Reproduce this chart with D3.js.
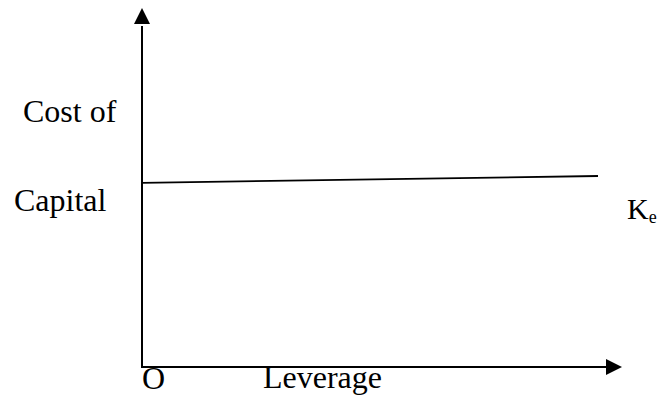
<!DOCTYPE html>
<html>
<head>
<meta charset="utf-8">
<script src="https://cdn.jsdelivr.net/npm/d3@7"></script>
<style>
  body { margin: 0; background: #fff; }
  text { font-family: "Liberation Serif", "Times New Roman", serif; fill: #000; }
</style>
</head>
<body>
<div id="chart"></div>
<script>
// data
const leverage = [0, 95];
const costOfEquity = [51.3, 53.2];
const seriesLabel = 'K';
const seriesSub = 'e';

const W = 658, H = 398;
const origin = {x: 142, y: 367};

const svg = d3.select('#chart')
    .append('svg')
    .attr('width', W)
    .attr('height', H);

const x = d3.scaleLinear()
    .domain([0, 100])
    .range([origin.x, 622]);

const y = d3.scaleLinear()
    .domain([0, 100])
    .range([origin.y, 8]);

// Y axis with arrow
svg.append('line')
    .attr('x1', x(0)).attr('y1', y(0) + 1)
    .attr('x2', x(0)).attr('y2', y(95))
    .attr('stroke', '#000')
    .attr('stroke-width', 2);
svg.append('path')
    .attr('d', `M${x(0)},${y(100)} L${x(0) - 8},${y(100) + 16} L${x(0) + 8},${y(100) + 16} Z`)
    .attr('fill', '#000');

// X axis with arrow
svg.append('line')
    .attr('x1', x(0) - 1).attr('y1', y(0))
    .attr('x2', x(97)).attr('y2', y(0))
    .attr('stroke', '#000')
    .attr('stroke-width', 2);
svg.append('path')
    .attr('d', `M${x(100)},${y(0)} L${x(100) - 16},${y(0) - 8} L${x(100) - 16},${y(0) + 8} Z`)
    .attr('fill', '#000');

// Ke line
const line = d3.line()
    .x((d, i) => x(leverage[i]))
    .y(d => y(d));

svg.append('path')
    .datum(costOfEquity)
    .attr('d', line)
    .attr('fill', 'none')
    .attr('stroke', '#000')
    .attr('stroke-width', 1.8);

// labels
svg.append('text')
    .attr('x', 23).attr('y', 122)
    .attr('font-size', 32)
    .text('Cost of');

svg.append('text')
    .attr('x', 14).attr('y', 211)
    .attr('font-size', 32)
    .text('Capital');

svg.append('text')
    .attr('x', 142).attr('y', 389)
    .attr('font-size', 32)
    .text('O');

svg.append('text')
    .attr('x', 263).attr('y', 388)
    .attr('font-size', 32)
    .text('Leverage');

const ke = svg.append('text')
    .attr('x', 627).attr('y', 219)
    .attr('font-size', 30);
ke.append('tspan').text(seriesLabel);
ke.append('tspan')
    .attr('font-size', 18)
    .attr('dy', 4)
    .text(seriesSub);
</script>
</body>
</html>
